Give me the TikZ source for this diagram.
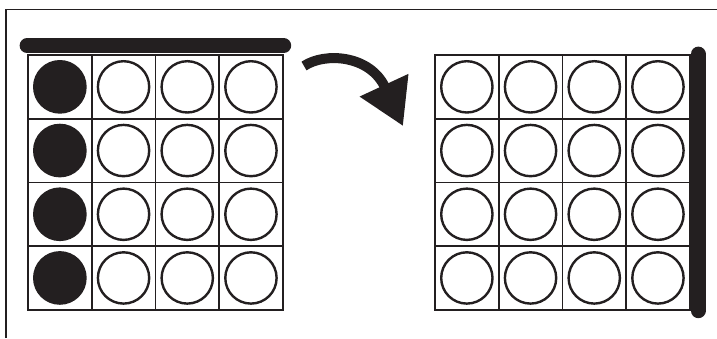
\documentclass[tikz,border=0pt]{standalone}
\usepackage{xcolor}
\usepackage{tikz}
\usetikzlibrary{arrows.meta}
\definecolor{ink}{RGB}{35,31,32}

\begin{document}
\begin{tikzpicture}[x=1pt, y=-1pt, >=Stealth,
    cell/.style={draw=ink, line width=1.8pt, minimum size=63.7pt, inner sep=0pt},
    hole/.style={circle, draw=ink, line width=2.4pt, minimum size=51.3pt, inner sep=0pt},
    peg/.style={circle, fill=ink, minimum size=53.7pt, inner sep=0pt},
    bar/.style={ink, line width=15pt, line cap=round},
    frame/.style={ink, line width=1.2pt}]
  \useasboundingbox (0,0) rectangle (717,338);
  % ── Frame (top and left edge) ─────────────────────────────────
  \draw[frame] (6,338) -- (6,9.5) -- (717,9.5);
  % ── Left board: bar on top, first column filled ───────────────
  \foreach \r in {1,...,4} {
    \foreach \c in {1,...,4} {
      \node[cell] (L-\r-\c) at (28+63.7*\c-31.85, 55+63.7*\r-31.85) {};
      \ifnum\c=1
        \node[peg] (Lp-\r-\c) at (L-\r-\c) {};
      \else
        \node[hole] (Lp-\r-\c) at (L-\r-\c) {};
      \fi
    }
  }
  \draw[bar] ([yshift=8.5pt]L-1-1.north west) -- ([yshift=8.5pt]L-1-4.north east);
  % ── Right board: bar on the right, all empty ──────────────────
  \foreach \r in {1,...,4} {
    \foreach \c in {1,...,4} {
      \node[cell] (R-\r-\c) at (435+63.7*\c-31.85, 55+63.7*\r-31.85) {};
      \node[hole] (Rp-\r-\c) at (R-\r-\c) {};
    }
  }
  \draw[bar] ([xshift=7.5pt]R-1-4.north east) -- ([xshift=7.5pt]R-4-4.south east);
  % ── Turning arrow ─────────────────────────────────────────────
  \coordinate (turn-s) at (304,66);
  \coordinate (turn-e) at (403,126);
  \draw[ink, line width=10pt, -{Triangle[length=45pt, width=51pt]}]
    (turn-s) .. controls (325,52) and (370,55) .. (turn-e);
\end{tikzpicture}
\end{document}
